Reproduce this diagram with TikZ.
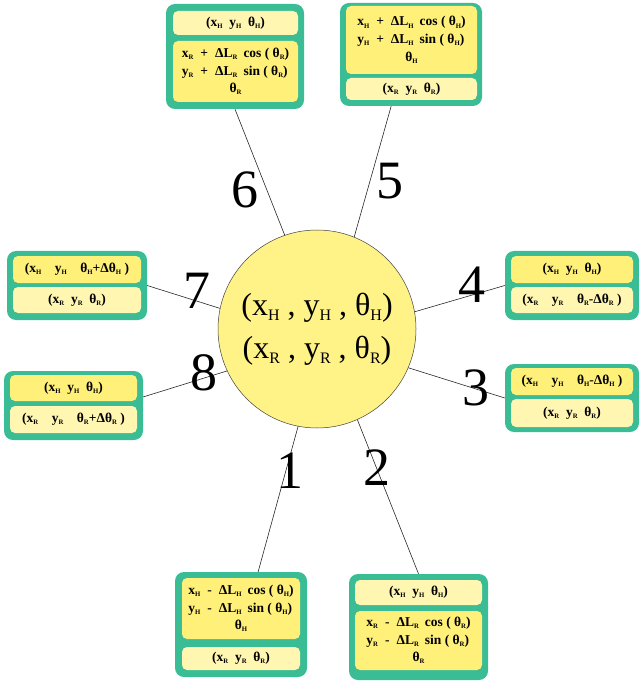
\documentclass[tikz,border=0pt]{standalone}
\usepackage{fontspec}
\setmainfont{Liberation Serif}
\usetikzlibrary{positioning}

\definecolor{boxgreen}{RGB}{58,188,148}
\definecolor{hubyellow}{RGB}{255,243,135}
\definecolor{paleyellow}{RGB}{255,246,178}
\definecolor{goldyellow}{RGB}{255,240,122}

% small lowered subscript letter
\newcommand{\lo}[1]{\raisebox{-0.35ex}{\scalebox{0.5}{#1}}}
% three rows of a move: sign, subscript
\newcommand{\moverows}[2]{%
\begin{tabular}{@{}l@{\hspace{7pt}}c@{\hspace{7pt}}l@{\hspace{6pt}}l@{}}
x\lo{#2} & #1 & ΔL\lo{#2} & cos ( θ\lo{#2}) \\
y\lo{#2} & #1 & ΔL\lo{#2} & sin ( θ\lo{#2}) \\
\multicolumn{4}{c}{θ\lo{#2}}
\end{tabular}}

\begin{document}
\begin{tikzpicture}[x=1pt, y=-1pt,
    hub/.style={circle, draw=black!75, line width=0.5pt, fill=hubyellow, minimum size=198pt, inner sep=0pt, align=center, font=\fontsize{32}{43}\selectfont},
    outerbox/.style={rounded corners=9pt, fill=boxgreen, inner sep=0pt},
    palebar/.style={rounded corners=5pt, fill=paleyellow, inner sep=0pt, align=center, font=\bfseries\fontsize{13.5}{17.7}\selectfont},
    goldbar/.style={palebar, fill=goldyellow},
    armnum/.style={font=\fontsize{54}{54}\selectfont},
    spoke/.style={draw=black!85, line width=0.6pt}
]
\useasboundingbox (0,0) rectangle (639,684);

% centre state
\node[hub] (c) at (317,329) {(x\lo{H} , y\lo{H} , θ\lo{H})\\(x\lo{R} , y\lo{R} , θ\lo{R})};

% 6: R forward
\node[outerbox, minimum width=138pt, minimum height=105pt] (b6) at (235,56.5) {};
\node[palebar, minimum width=125pt, minimum height=24pt] (b6h) at (235.5,23) {(x\lo{H}~ y\lo{H}~ θ\lo{H})};
\node[goldbar, minimum width=125pt, minimum height=61pt] (b6r) at (235.5,71.5) {\moverows{+}{R}};

% 5: H forward
\node[outerbox, minimum width=142pt, minimum height=103pt] (b5) at (411,54.5) {};
\node[goldbar, minimum width=131pt, minimum height=68pt] (b5h) at (411.5,40) {\moverows{+}{H}};
\node[palebar, minimum width=131pt, minimum height=22pt] (b5r) at (411.5,89) {(x\lo{R}~ y\lo{R}~ θ\lo{R})};

% 7: H turns left
\node[outerbox, minimum width=140pt, minimum height=69pt] (b7) at (77,285.5) {};
\node[goldbar, minimum width=128pt, minimum height=27pt] (b7h) at (77,269.5) {(x\lo{H}~~~ y\lo{H}~~~ θ\lo{H}+Δθ\lo{H} )};
\node[palebar, minimum width=128pt, minimum height=26pt] (b7r) at (77,300) {(x\lo{R}~ y\lo{R}~ θ\lo{R})};

% 8: R turns left
\node[outerbox, minimum width=139pt, minimum height=69pt] (b8) at (73.5,405.5) {};
\node[goldbar, minimum width=127pt, minimum height=26pt] (b8h) at (73.5,388) {(x\lo{H}~ y\lo{H}~ θ\lo{H})};
\node[palebar, minimum width=127pt, minimum height=27pt] (b8r) at (73.5,419.5) {(x\lo{R}~~~ y\lo{R}~~~ θ\lo{R}+Δθ\lo{R} )};

% 4: R turns right
\node[outerbox, minimum width=134pt, minimum height=69pt] (b4) at (572,285.5) {};
\node[goldbar, minimum width=122pt, minimum height=27pt] (b4h) at (572,269.5) {(x\lo{H}~ y\lo{H}~ θ\lo{H})};
\node[palebar, minimum width=122pt, minimum height=26pt] (b4r) at (572,300) {(x\lo{R}~~~ y\lo{R}~~~ θ\lo{R}-Δθ\lo{R} )};

% 3: H turns right
\node[outerbox, minimum width=134pt, minimum height=68pt] (b3) at (572,398) {};
\node[goldbar, minimum width=122pt, minimum height=27pt] (b3h) at (572,381.5) {(x\lo{H}~~~ y\lo{H}~~~ θ\lo{H}-Δθ\lo{H} )};
\node[palebar, minimum width=122pt, minimum height=28pt] (b3r) at (572,413) {(x\lo{R}~ y\lo{R}~ θ\lo{R})};

% 1: H backward
\node[outerbox, minimum width=132pt, minimum height=105pt] (b1) at (241,624.5) {};
\node[goldbar, minimum width=118pt, minimum height=61pt] (b1h) at (241,608.5) {\moverows{-}{H}};
\node[palebar, minimum width=118pt, minimum height=23pt] (b1r) at (241,658.5) {(x\lo{R}~ y\lo{R}~ θ\lo{R})};

% 2: R backward
\node[outerbox, minimum width=139pt, minimum height=106pt] (b2) at (418.5,627) {};
\node[palebar, minimum width=127pt, minimum height=25pt] (b2h) at (418.5,592.5) {(x\lo{H}~ y\lo{H}~ θ\lo{H})};
\node[goldbar, minimum width=127pt, minimum height=59pt] (b2r) at (418.5,640.5) {\moverows{-}{R}};

% spokes
\draw[spoke] (c.109) -- (b6.south);
\draw[spoke] (c.68) -- (b5.-111);
\draw[spoke] (c.168) -- (b7.east);
\draw[spoke] (c.205) -- (b8.7);
\draw[spoke] (c.10) -- (b4.west);
\draw[spoke] (c.-23) -- (b3.west);
\draw[spoke] (c.-101) -- (b1.72);
\draw[spoke] (c.-66) -- (b2.north);

% move numbers
\node[armnum] (n6) at (245,190) {6};
\node[armnum] (n5) at (390,181) {5};
\node[armnum] (n7) at (197,291) {7};
\node[armnum] (n8) at (204,373) {8};
\node[armnum] (n4) at (472,285) {4};
\node[armnum] (n3) at (476,388) {3};
\node[armnum] (n1) at (290,471) {1};
\node[armnum] (n2) at (377,468) {2};

\end{tikzpicture}
\end{document}
